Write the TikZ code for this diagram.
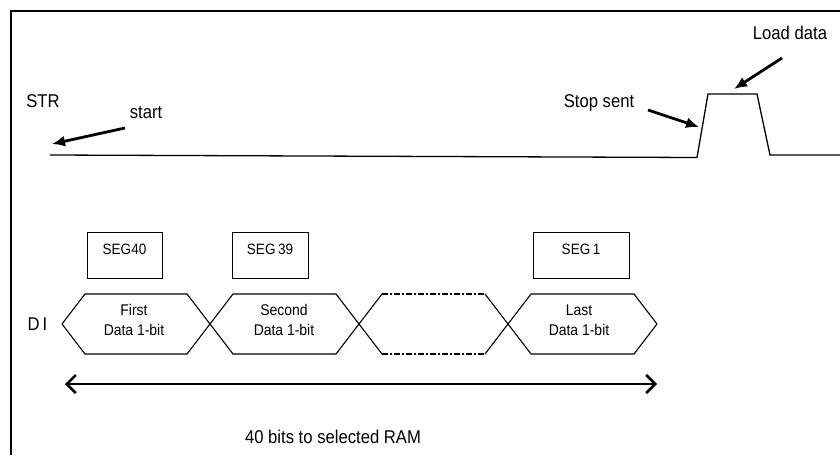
\documentclass[tikz,border=0pt]{standalone}
\usepackage{fontspec}
\setmainfont[FakeStretch=0.9]{Liberation Sans}
\usetikzlibrary{arrows.meta}
\begin{document}
\begin{tikzpicture}[x=1pt,y=-1pt,
  lbl/.style={font=\fontsize{18.5}{20}\selectfont, inner sep=0pt, anchor=base},
  hextxt/.style={font=\fontsize{15.5}{20}\selectfont, align=center, inner sep=0pt},
  segbox/.style={draw, line width=1pt, minimum width=#1, minimum height=46pt, inner sep=0pt,
    font=\fontsize{15}{15}\selectfont, text height=11pt, text depth=12pt},
  sig/.style={line width=1.3pt, line join=miter},
  hexline/.style={line width=1.1pt},
  dashdot/.style={line width=1.1pt, dash pattern=on 6pt off 2pt on 2pt off 2pt},
  bigarrow/.style={line width=2.8pt, -{Latex[length=13pt,width=11pt]}},
  dblarrow/.style={line width=2.6pt, {Straight Barb[length=9pt,width=18pt]}-{Straight Barb[length=9pt,width=18pt]}},
]
\useasboundingbox (0,0) rectangle (840,455);
% frame
\draw[line width=2pt] (11,455) -- (11,11) -- (840,11);

% STR signal
\node[lbl] (str) at (43,107) {STR};
\coordinate (s0) at (50,155);
\coordinate (s1) at (697,157.5);
\coordinate (s2) at (708,94);
\coordinate (s3) at (757,94);
\coordinate (s4) at (770,155);
\coordinate (s5) at (840,155);
\draw[sig] (s0) -- (s1) -- (s2) -- (s3) -- (s4) -- (s5);

\node[lbl] (start) at (146,118) {start};
\coordinate (a1s) at (125,128);
\coordinate (a1e) at (52,144);
\draw[bigarrow] (a1s) -- (a1e);

\node[lbl] (stop) at (599,107) {Stop sent};
\coordinate (a2s) at (648,110);
\coordinate (a2e) at (699,127);
\draw[bigarrow] (a2s) -- (a2e);

\node[lbl] (load) at (790,39) {Load data};
\coordinate (a3s) at (782,58);
\coordinate (a3e) at (734,89);
\draw[bigarrow] (a3s) -- (a3e);

% SEG boxes
\node[segbox=75pt] (seg40) at (124.5,255) {SEG40};
\node[segbox=76pt] (seg39) at (270,255) {SEG\,39};
\node[segbox=96pt] (seg1) at (581,255) {SEG\,1};

% DI waveform
\node[lbl] (di) at (37.5,330) {D\,I};
\coordinate (L) at (62,324);
\coordinate (R) at (657,324);
\draw[hexline] (L) -- (85,294) -- (187,294) -- (233,354) -- (336,354) -- (382,294);
\draw[hexline] (L) -- (85,354) -- (187,354) -- (233,294) -- (336,294) -- (382,354);
\draw[dashdot] (382,294) -- (485,294);
\draw[dashdot] (382,354) -- (485,354);
\draw[hexline] (485,294) -- (531,354) -- (634,354) -- (R);
\draw[hexline] (485,354) -- (531,294) -- (634,294) -- (R);

\node[hextxt] (h1) at (134,320) {First\\Data 1-bit};
\node[hextxt] (h2) at (284,320) {Second\\Data 1-bit};
\node[hextxt] (h4) at (579,320) {Last\\Data 1-bit};

% span arrow
\coordinate (b1) at (65,384);
\coordinate (b2) at (657,384);
\draw[dblarrow] (b1) -- (b2);
\node[lbl] (ram) at (333,443) {40 bits to selected RAM};
\end{tikzpicture}
\end{document}
